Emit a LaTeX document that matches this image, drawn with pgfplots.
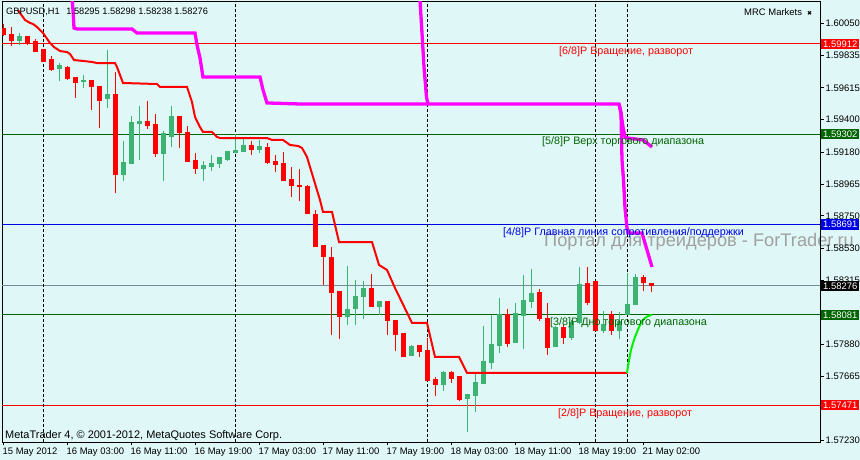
\documentclass[border=0pt]{standalone}
\usepackage{fontspec}
\setmainfont{Liberation Sans}
\newfontfamily\dejavu{DejaVu Sans}
\usepackage{pgfplots}
\pgfplotsset{compat=1.18}
\usepackage{pgfplotstable}

\definecolor{bg}{RGB}{224,247,247}
\definecolor{mtred}{RGB}{255,0,0}
\definecolor{mtgreen}{RGB}{60,179,113}
\definecolor{dkgreen}{RGB}{0,100,0}
\definecolor{mtblue}{RGB}{0,0,230}
\definecolor{slate}{RGB}{119,136,153}
\definecolor{mag}{RGB}{255,0,255}
\definecolor{limeg}{RGB}{0,240,0}
\definecolor{wm}{RGB}{160,160,160}

% bearish candles: x o h l c
\pgfplotstableread{
x o h l c
3 1.60013 1.60047 1.59966 1.59972
11 1.59972 1.60026 1.59898 1.59932
27 1.59959 1.59959 1.59905 1.59912
35 1.59925 1.59945 1.59857 1.59857
43 1.59871 1.59871 1.59790 1.59790
51 1.59803 1.59830 1.59729 1.59736
67 1.59749 1.59763 1.59668 1.59675
75 1.59682 1.59688 1.59547 1.59648
91 1.59661 1.59668 1.59465 1.59621
99 1.59621 1.59628 1.59344 1.59526
115 1.59567 1.59722 1.58904 1.59026
147 1.59384 1.59526 1.59337 1.59357
155 1.59364 1.59438 1.59148 1.59168
179 1.59418 1.59425 1.59209 1.59310
187 1.59310 1.59357 1.59114 1.59114
195 1.59121 1.59175 1.59033 1.59067
251 1.59222 1.59256 1.59161 1.59195
267 1.59209 1.59242 1.59100 1.59107
275 1.59114 1.59161 1.59046 1.59094
283 1.59100 1.59181 1.58985 1.58985
291 1.58992 1.59080 1.58877 1.58952
299 1.58952 1.59067 1.58850 1.58945
307 1.58945 1.58958 1.58762 1.58762
315 1.58756 1.58789 1.58539 1.58539
323 1.58546 1.58553 1.58282 1.58472
331 1.58465 1.58539 1.57944 1.58228
339 1.58235 1.58235 1.57917 1.58066
371 1.58255 1.58357 1.58134 1.58134
387 1.58167 1.58174 1.57944 1.58039
395 1.58039 1.58039 1.57836 1.57944
403 1.57951 1.57958 1.57796 1.57796
419 1.57870 1.57877 1.57796 1.57829
427 1.57836 1.57924 1.57633 1.57633
435 1.57640 1.57660 1.57532 1.57606
451 1.57688 1.57701 1.57620 1.57647
459 1.57660 1.57660 1.57498 1.57505
507 1.58080 1.58120 1.57863 1.57884
539 1.58228 1.58255 1.58039 1.58053
547 1.58053 1.58161 1.57809 1.57857
563 1.57992 1.58019 1.57884 1.57924
587 1.58289 1.58404 1.58147 1.58161
595 1.58303 1.58303 1.57971 1.57971
611 1.58080 1.58107 1.57944 1.57971
643 1.58330 1.58350 1.58242 1.58296
651 1.58295 1.58298 1.58238 1.58276
}\redc

% bullish candles: x o h l c
\pgfplotstableread{
x o h l c
19 1.59932 1.59986 1.59905 1.59959
59 1.59743 1.59783 1.59661 1.59763
83 1.59655 1.59702 1.59614 1.59661
107 1.59540 1.59871 1.59479 1.59567
123 1.59026 1.59256 1.58985 1.59107
131 1.59100 1.59425 1.59100 1.59378
139 1.59371 1.59492 1.59127 1.59384
163 1.59168 1.59323 1.58985 1.59303
171 1.59283 1.59492 1.59215 1.59418
203 1.59067 1.59121 1.58985 1.59087
211 1.59080 1.59161 1.59053 1.59100
219 1.59100 1.59141 1.59073 1.59141
227 1.59127 1.59188 1.59121 1.59181
235 1.59175 1.59303 1.59175 1.59188
243 1.59181 1.59283 1.59181 1.59222
259 1.59195 1.59263 1.59175 1.59215
347 1.58066 1.58411 1.58012 1.58113
355 1.58120 1.58316 1.58012 1.58201
363 1.58201 1.58309 1.58053 1.58255
379 1.58134 1.58174 1.58080 1.58167
411 1.57802 1.57877 1.57802 1.57863
443 1.57606 1.57701 1.57566 1.57688
467 1.57512 1.57539 1.57289 1.57539
475 1.57532 1.57688 1.57424 1.57620
483 1.57613 1.58005 1.57613 1.57762
491 1.57755 1.58080 1.57715 1.57877
499 1.57870 1.58195 1.57823 1.58080
515 1.57890 1.58161 1.57890 1.58086
523 1.58073 1.58350 1.57850 1.58174
531 1.58167 1.58391 1.58127 1.58222
555 1.57863 1.58005 1.57863 1.57992
571 1.57924 1.58046 1.57911 1.58026
579 1.58026 1.58404 1.58019 1.58282
603 1.57971 1.58107 1.57958 1.58012
619 1.57971 1.58100 1.57917 1.58032
627 1.58080 1.58364 1.58080 1.58147
635 1.58147 1.58357 1.58147 1.58330
}\greenc

\pgfplotstableread{
x y
18 1.60141
20 1.60121
25 1.60074
30 1.60054
33 1.60047
37 1.60026
43 1.59986
50 1.59918
54 1.59891
60 1.59864
67 1.59857
70 1.59844
74 1.59803
83 1.59797
92 1.59790
97 1.59783
115 1.59783
117 1.59756
120 1.59702
123 1.59648
157 1.59641
160 1.59621
187 1.59621
189 1.59580
192 1.59519
195 1.59418
200 1.59350
203 1.59317
212 1.59317
217 1.59283
220 1.59276
267 1.59276
272 1.59263
283 1.59263
290 1.59229
298 1.59222
302 1.59209
307 1.59148
310 1.59080
320 1.58857
323 1.58776
332 1.58776
339 1.58573
372 1.58573
379 1.58418
387 1.58384
395 1.58262
412 1.58026
427 1.58026
435 1.57796
459 1.57796
467 1.57688
627 1.57688
}\redline

\pgfplotstableread{
x y
71.5 1.60277
73 1.60141
74 1.60020
77 1.60013
132 1.60013
137 1.59986
195 1.59986
197 1.59905
200 1.59817
203 1.59688
260 1.59688
263 1.59601
267 1.59513
300 1.59506
427 1.59506
}\magA

\pgfplotstableread{
x y
419.5 1.60277
420 1.60209
422 1.59986
424 1.59756
426.5 1.59553
428 1.59506
619 1.59506
621 1.59445
623 1.59350
625 1.59283
627 1.59276
643 1.59263
652 1.59215
}\magB

\pgfplotstableread{
x y
619 1.59506
621 1.59445
622 1.59127
623.5 1.58992
625 1.58803
627 1.58668
628 1.58634
642 1.58634
647 1.58519
652 1.58404
}\magD

\pgfplotstableread{
x y
627 1.57688
629 1.57775
631 1.57843
633 1.57890
635 1.57931
637 1.57965
640 1.58012
642 1.58039
645 1.58059
648 1.58073
652 1.58080
}\limeline

\newcommand\lf{\fontsize{10.8}{12}\selectfont}
\newcommand\af{\fontsize{9.5}{11}\selectfont}

\begin{document}
\begin{tikzpicture}
\path[fill=bg, use as bounding box] (-2bp,-18bp) rectangle (858bp,442bp);
\node[anchor=base west, text=wm, inner sep=0pt, font=\fontsize{18.3}{19}\selectfont] at (542bp,195.5bp) {Портал для трейдеров - ForTrader.ru};
\begin{axis}[
  at={(0bp,0bp)}, anchor=south west,
  scale only axis, width=818bp, height=440bp,
  xmin=2, xmax=820, ymin=1.57221, ymax=1.601955,
  clip mode=individual,
  axis line style={black, line width=1bp},
  tick align=outside, major tick length=3.5bp,
  tick style={black, line width=1bp},
  xtick pos=bottom, ytick pos=right, yticklabel pos=right,
  xtick={3,67,131,195,259,323,387,451,515,579,643},
  xticklabels={15 May 2012,16 May 03:00,16 May 11:00,16 May 19:00,17 May 03:00,17 May 11:00,17 May 19:00,18 May 03:00,18 May 11:00,18 May 19:00,21 May 02:00},
  ytick={1.60050,1.59835,1.59615,1.59400,1.59180,1.58965,1.58750,1.58530,1.58315,1.58095,1.57880,1.57665,1.57445,1.57230},
  yticklabels={1.60050,1.59835,1.59615,1.59400,1.59180,1.58965,1.58750,1.58530,1.58315,,1.57880,1.57665,,1.57230},
  xticklabel style={font=\af, anchor=north west, inner sep=0pt, xshift=-0.5bp, yshift=-2.5bp},
  yticklabel style={font=\af, anchor=west, inner sep=0pt, xshift=2bp},
]
% horizontal levels
\addplot[mtred, line width=1bp, forget plot] coordinates {(2,1.59912) (820,1.59912)};
\addplot[dkgreen, line width=1bp, forget plot] coordinates {(2,1.59302) (820,1.59302)};
\addplot[mtblue, line width=1bp, forget plot] coordinates {(2,1.58691) (820,1.58691)};
\addplot[slate, line width=1bp, forget plot] coordinates {(2,1.58276) (820,1.58276)};
\addplot[dkgreen, line width=1bp, forget plot] coordinates {(2,1.58081) (820,1.58081)};
\addplot[mtred, line width=1bp, forget plot] coordinates {(2,1.57471) (820,1.57471)};
% day separators
\addplot[black, line width=1bp, dash pattern=on 3bp off 2bp, forget plot] coordinates {(43,1.57221) (43,1.601955)};
\addplot[black, line width=1bp, dash pattern=on 3bp off 2bp, forget plot] coordinates {(235,1.57221) (235,1.601955)};
\addplot[black, line width=1bp, dash pattern=on 3bp off 2bp, forget plot] coordinates {(427,1.57221) (427,1.601955)};
\addplot[black, line width=1bp, dash pattern=on 3bp off 2bp, forget plot] coordinates {(595,1.57221) (595,1.601955)};
\addplot[black, line width=1bp, dash pattern=on 3bp off 2bp, forget plot] coordinates {(627,1.57221) (627,1.601955)};
% wicks
\addplot[forget plot, draw=none, mark=none, error bars/.cd, y dir=plus, y explicit, error mark=none,
  error bar style={draw=mtred, line width=1bp, solid}] table[x=x, y=l, y error expr=\thisrow{h}-\thisrow{l}] {\redc};
\addplot[forget plot, draw=none, mark=none, error bars/.cd, y dir=plus, y explicit, error mark=none,
  error bar style={draw=mtgreen, line width=1bp, solid}] table[x=x, y=l, y error expr=\thisrow{h}-\thisrow{l}] {\greenc};
% bodies
\addplot[forget plot, draw=none, mark=none, error bars/.cd, y dir=plus, y explicit, error mark=none,
  error bar style={draw=mtred, line width=5bp, solid}] table[x=x, y=c, y error expr=\thisrow{o}-\thisrow{c}+0.00004] {\redc};
\addplot[forget plot, draw=none, mark=none, error bars/.cd, y dir=plus, y explicit, error mark=none,
  error bar style={draw=mtgreen, line width=5bp, solid}] table[x=x, y=o, y error expr=\thisrow{c}-\thisrow{o}+0.00004] {\greenc};
% indicator lines
\addplot[mtred, line width=2bp, forget plot] table[x=x, y=y] {\redline};
\addplot[mag, line width=3.3bp, forget plot] table[x=x, y=y] {\magA};
\addplot[mag, line width=3.3bp, forget plot] table[x=x, y=y] {\magB};
\addplot[mag, line width=3.3bp, forget plot] table[x=x, y=y] {\magD};
\addplot[limeg, line width=2bp, forget plot] table[x=x, y=y] {\limeline};
\coordinate (b1) at (axis cs:820,1.59912);
\coordinate (b2) at (axis cs:820,1.59302);
\coordinate (b3) at (axis cs:820,1.58691);
\coordinate (b4) at (axis cs:820,1.58276);
\coordinate (b5) at (axis cs:820,1.58081);
\coordinate (b6) at (axis cs:820,1.57471);
\end{axis}
% level labels
\node[anchor=base west, inner sep=0pt, text=mtred, font=\lf] at (557bp,387bp) {[6/8]P Вращение, разворот};
\node[anchor=base west, inner sep=0pt, text=dkgreen, font=\lf] at (540bp,297bp) {[5/8]P Верх торгового диапазона};
\node[anchor=base west, inner sep=0pt, text=mtblue, font=\lf] at (501bp,206.5bp) {[4/8]P Главная линия сопротивления/поддержки};
\node[anchor=base west, inner sep=0pt, text=dkgreen, font=\lf] at (548bp,116bp) {[3/8]P Дно торгового диапазона};
\node[anchor=base west, inner sep=0pt, text=mtred, font=\lf] at (556bp,26bp) {[2/8]P Вращение, разворот};
% header / footer texts
\node[anchor=base west, inner sep=0pt, font=\fontsize{9.3}{11}\selectfont] at (4bp,427bp) {GBPUSD,H1\hspace{4bp} 1.58295 1.58298 1.58238 1.58276};
\node[anchor=base west, inner sep=0pt, font=\fontsize{9.5}{11}\selectfont] at (742bp,426bp) {MRC Markets};
\node[inner sep=0pt, font=\dejavu\fontsize{6}{6}\selectfont] at (807.5bp,429bp) {✖};
\node[anchor=base west, inner sep=0pt, font=\fontsize{11}{13}\selectfont] at (3bp,4bp) {MetaTrader 4, © 2001-2012, MetaQuotes Software Corp.};
% price boxes
\tikzset{pbox/.style={anchor=west, inner sep=0pt, minimum width=38bp, minimum height=10.5bp, text=white, font=\af, xshift=1bp}}
\node[pbox, fill=mtred] at (b1) {1.59912};
\node[pbox, fill=dkgreen] at (b2) {1.59302};
\node[pbox, fill=mtblue] at (b3) {1.58691};
\node[pbox, fill=black] at (b4) {1.58276};
\node[pbox, fill=dkgreen] at (b5) {1.58081};
\node[pbox, fill=mtred] at (b6) {1.57471};
\end{tikzpicture}
\end{document}
